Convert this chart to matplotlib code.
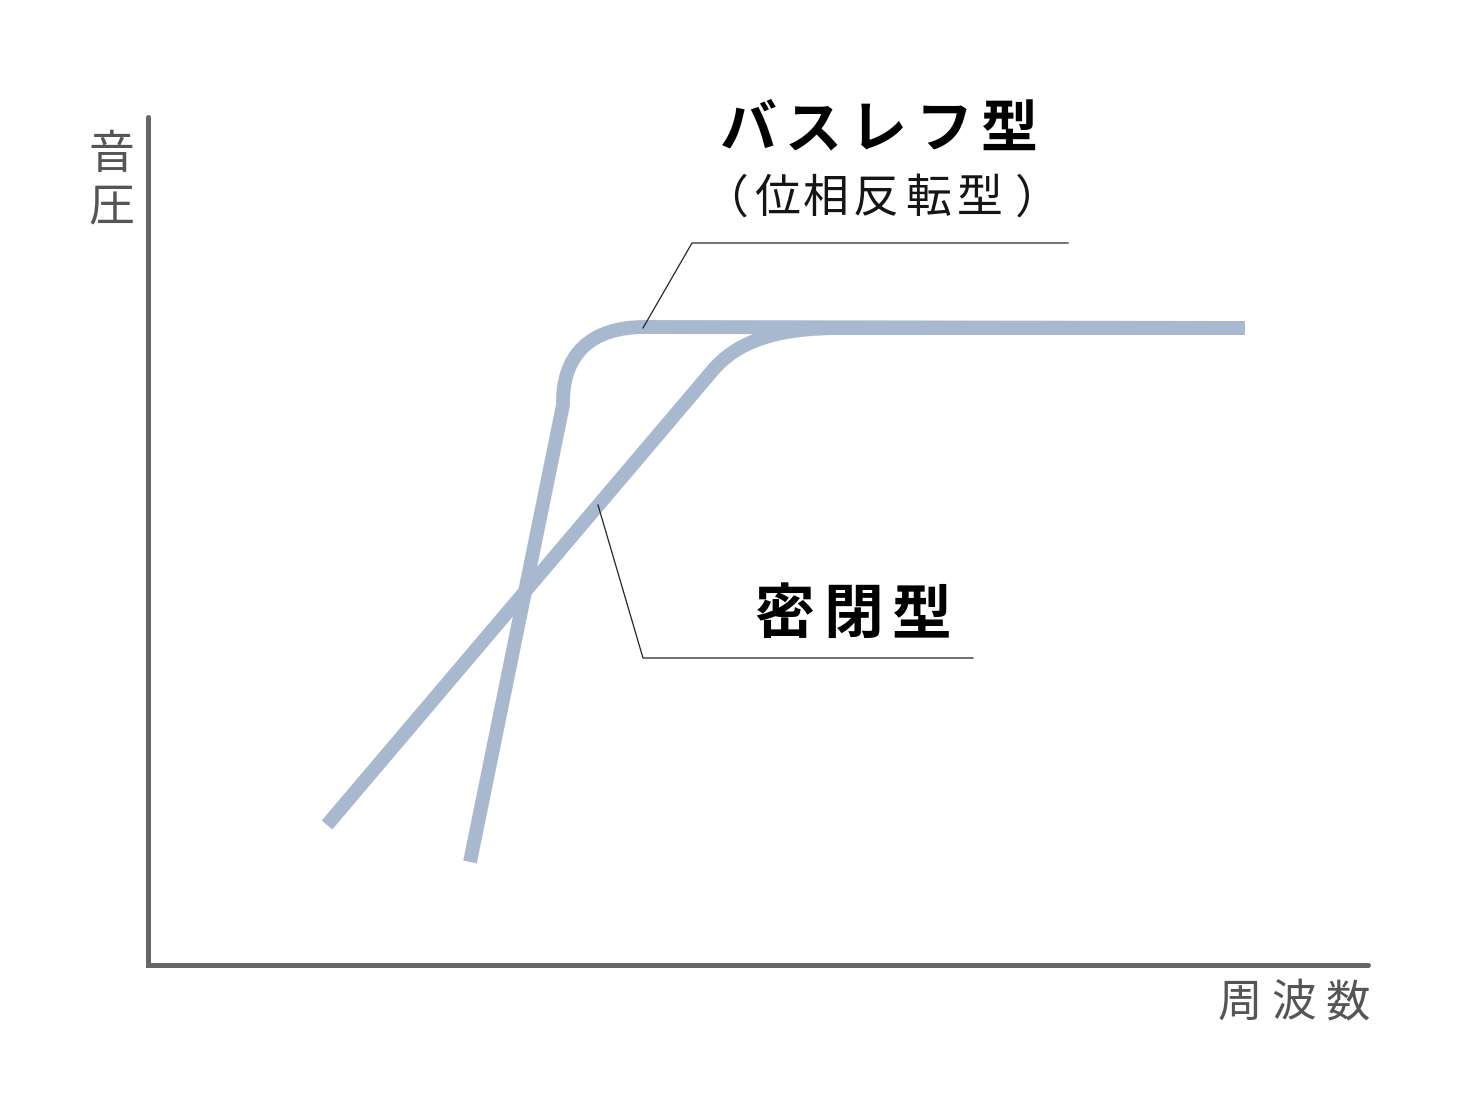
import matplotlib
matplotlib.use("Agg")
import matplotlib.pyplot as plt
from matplotlib.path import Path
from matplotlib.patches import PathPatch

plt.rcParams['font.family'] = ['Noto Sans CJK JP', 'DejaVu Sans']

# Schematic curves (frequency -> sound pressure), in chart units
# Bass reflex: steep straight rise, rounded knee, flat
bass_x = [470, 563, 562, 590, 645, 1245]
bass_y = [862, 405, 355, 327, 327, 328]
# Sealed: gentle straight rise, wide rounded knee, flat
closed_x = [327, 713, 737, 775, 840, 1245]
closed_y = [825, 370, 342, 328, 328, 328]

# leader lines
bass_leader_x = [643, 692, 1068]
bass_leader_y = [328, 243, 243]
closed_leader_x = [598, 643, 973]
closed_leader_y = [505, 658, 658]

title_bass = "バスレフ型"
sub_bass = ["（", "位", "相", "反", "転", "型", "）"]
title_closed = "密閉型"
ylabel = "音圧"
xlabel = "周波数"

curve_color = "#a8b9cf"
axis_color = "#666666"
label_color = "#555555"

fig = plt.figure(figsize=(14.8, 11.1), dpi=100)
ax = fig.add_axes([0, 0, 1, 1])
ax.set_xlim(0, 1480)
ax.set_ylim(1110, 0)
ax.axis("off")

# axes lines
ax.plot([148, 148, 1368], [117, 965, 965], color=axis_color, lw=3.6,
        solid_capstyle="round", solid_joinstyle="miter")

codes = [Path.MOVETO, Path.LINETO, Path.CURVE4, Path.CURVE4, Path.CURVE4, Path.LINETO]
for xs, ys in [(closed_x, closed_y), (bass_x, bass_y)]:
    p = Path(list(zip(xs, ys)), codes)
    ax.add_patch(PathPatch(p, facecolor="none", edgecolor=curve_color, lw=10,
                           capstyle="butt", joinstyle="round"))

ax.plot(bass_leader_x, bass_leader_y, color="#222222", lw=0.9)
ax.plot(closed_leader_x, closed_leader_y, color="#222222", lw=0.9)

def spaced(chars, x0, pitch, y, **kw):
    for i, c in enumerate(chars):
        ax.text(x0 + i * pitch, y, c, ha="center", va="center", **kw)

spaced(list(title_bass), 748, 65.3, 130, fontsize=41, fontweight="bold", color="black")
sub_x = [725, 777, 826, 876, 928, 980, 1038]
for xx, c in zip(sub_x, sub_bass):
    ax.text(xx, 199, c, ha="center", va="center", fontsize=33, color="#151515")
spaced(list(title_closed), 784, 69, 616, fontsize=43, fontweight="bold", color="black")
for yy, c in zip([155, 207], ylabel):
    ax.text(111, yy, c, ha="center", va="center", fontsize=33, color=label_color)
spaced(list(xlabel), 1240, 54, 1003, fontsize=32, color=label_color)

fig.savefig("out.png", dpi=100)
